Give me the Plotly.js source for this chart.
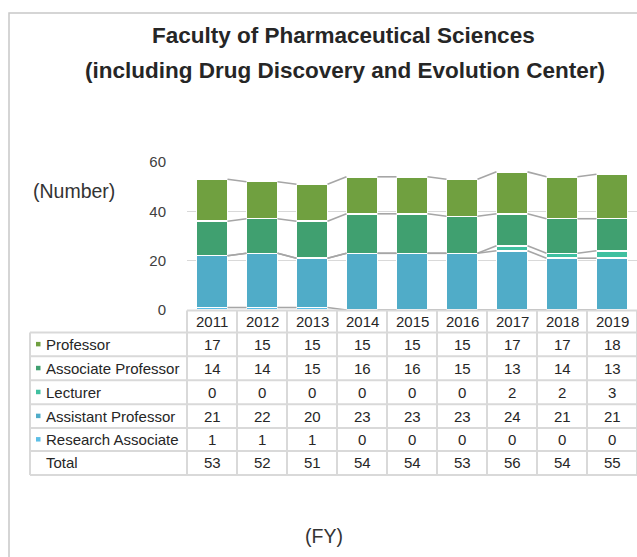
<!DOCTYPE html>
<html>
<head>
<meta charset="utf-8">
<script src="https://cdn.plot.ly/plotly-3.0.1.min.js"></script>
<style>html,body{margin:0;padding:0;background:#fff;}#chart{width:637px;height:557px;}</style>
</head>
<body>
<div id="chart"></div>
<script>
// ---- data ----
var years = ["2011","2012","2013","2014","2015","2016","2017","2018","2019"];
var professor = [17,15,15,15,15,15,17,17,18];
var associateProfessor = [14,14,15,16,16,15,13,14,13];
var lecturer = [0,0,0,0,0,0,2,2,3];
var assistantProfessor = [21,22,20,23,23,23,24,21,21];
var researchAssociate = [1,1,1,0,0,0,0,0,0];
var seriesNames = ["Professor","Associate Professor","Lecturer","Assistant Professor","Research Associate"];
var yTicks = [0,20,40,60];

// ---- styling ----
var colors = {
  "Professor":"#70A040",
  "Associate Professor":"#40A070",
  "Lecturer":"#40C0A0",
  "Assistant Professor":"#50ACC8",
  "Research Associate":"#5CBEE6"
};
var seriesData = {
  "Professor":professor,
  "Associate Professor":associateProfessor,
  "Lecturer":lecturer,
  "Assistant Professor":assistantProfessor,
  "Research Associate":researchAssociate
};
var W = 637, H = 557;
var PL = 187, PR = 637, PT = 162, PB = 310.5;
function px2x(px){ return (px-PL)/(PR-PL); }
function px2y(py){ return (PB-py)/(PB-PT); }
var BW = 0.62;
var xs = years.map(function(_,i){return i;});

var traces = [];
// stacking order bottom -> top
var stackOrder = ["Research Associate","Assistant Professor","Lecturer","Associate Professor","Professor"];
stackOrder.forEach(function(name){
  traces.push({
    type:"bar", x:xs, y:seriesData[name], name:name,
    width:BW, marker:{color:colors[name], line:{color:"#ffffff", width:1.5}},
    showlegend:false, hoverinfo:"skip"
  });
});
// series lines connecting tops of each segment
var cum = years.map(function(){return 0;});
stackOrder.forEach(function(name){
  cum = cum.map(function(c,i){return c + seriesData[name][i];});
  var lx = [], ly = [];
  for (var i=0;i<years.length-1;i++){
    lx.push(i+BW/2, i+1-BW/2, null);
    ly.push(cum[i], cum[i+1], null);
  }
  traces.push({type:"scatter", mode:"lines", x:lx, y:ly, line:{color:"#A6A6A6", width:1.6},
    showlegend:false, hoverinfo:"skip", cliponaxis:false});
});

var totals = years.map(function(_,i){
  return seriesNames.reduce(function(s,n){return s+seriesData[n][i];},0);
});

// ---- table ----
var shapes = [], annotations = [];
var gridC = "#D9D9D9", gridW = 2;
var rowLines = [311,333,357,381,405,429,452,476];
function hline(py, x0px, x1px){
  shapes.push({type:"line", xref:"paper", yref:"paper", x0:px2x(x0px), x1:px2x(x1px), y0:px2y(py), y1:px2y(py), line:{color:gridC, width:gridW}});
}
function vline(pxx, y0px, y1px){
  shapes.push({type:"line", xref:"paper", yref:"paper", x0:px2x(pxx), x1:px2x(pxx), y0:px2y(y0px), y1:px2y(y1px), line:{color:gridC, width:gridW}});
}
hline(311, 187, 640);
for (var r=1;r<rowLines.length;r++) hline(rowLines[r], 30, 640);
vline(30, 333, 476);
for (var c=0;c<=years.length;c++){
  vline(187 + c*50, 311, 476);
}
var FAM = "Liberation Sans, Arial, sans-serif";
var tFont = {family:FAM, size:15, color:"#262626"};
// header years
years.forEach(function(yr,i){
  annotations.push({xref:"x", yref:"paper", x:i, y:px2y(322.5), text:yr, showarrow:false, font:tFont, xanchor:"center", yanchor:"middle"});
});
var rowNames = seriesNames.concat(["Total"]);
var rowVals = seriesNames.map(function(n){return seriesData[n];}).concat([totals]);
rowNames.forEach(function(n,r){
  var cy = (rowLines[r+1]+rowLines[r+2])/2;
  annotations.push({xref:"paper", yref:"paper", x:px2x(43.5), y:px2y(cy), text:n, showarrow:false, font:tFont, xanchor:"left", yanchor:"middle"});
  if (colors[n]) {
    shapes.push({type:"rect", xref:"paper", yref:"paper", x0:px2x(36), x1:px2x(40.5), y0:px2y(cy-2.5), y1:px2y(cy+2), fillcolor:colors[n], line:{width:0}});
  }
  rowVals[r].forEach(function(v,i){
    annotations.push({xref:"x", yref:"paper", x:i, y:px2y(cy), text:String(v), showarrow:false, font:tFont, xanchor:"center", yanchor:"middle"});
  });
});

// outer border
shapes.push({type:"rect", xref:"paper", yref:"paper", x0:px2x(9), x1:px2x(645), y0:px2y(12.5), y1:px2y(565), line:{color:"#C8C8C8", width:1.5}, fillcolor:"rgba(0,0,0,0)"});

// titles
var titleFont = {family:FAM, size:22.5, color:"#262626"};
annotations.push({xref:"paper", yref:"paper", x:px2x(343.5), y:px2y(35), text:"<b>Faculty of Pharmaceutical Sciences</b>", showarrow:false, font:titleFont, xanchor:"center", yanchor:"middle"});
annotations.push({xref:"paper", yref:"paper", x:px2x(344.5), y:px2y(70), text:"<b>(including Drug Discovery and Evolution Center)</b>", showarrow:false, font:titleFont, xanchor:"center", yanchor:"middle"});
var unitFont = {family:FAM, size:19.5, color:"#333333"};
annotations.push({xref:"paper", yref:"paper", x:px2x(74), y:px2y(191), text:"(Number)", showarrow:false, font:unitFont, xanchor:"center", yanchor:"middle"});
annotations.push({xref:"paper", yref:"paper", x:px2x(324), y:px2y(537), text:"(FY)", showarrow:false, font:unitFont, xanchor:"center", yanchor:"middle"});

var layout = {
  width:W, height:H,
  margin:{l:PL, r:W-PR, t:PT, b:H-PB, pad:0},
  paper_bgcolor:"#ffffff", plot_bgcolor:"#ffffff",
  barmode:"stack",
  showlegend:false,
  xaxis:{range:[-0.5, years.length-0.5], showticklabels:false, showgrid:false, zeroline:false, showline:false, ticks:"", fixedrange:true},
  yaxis:{range:[0,60], tickvals:yTicks, ticktext:yTicks.map(String), showgrid:true, gridcolor:"#D9D9D9", gridwidth:1.5,
    zeroline:false, showline:false, ticks:"outside", ticklen:17, tickcolor:"rgba(0,0,0,0)",
    tickfont:{family:FAM, size:15, color:"#404040"}, fixedrange:true},
  shapes:shapes,
  annotations:annotations,
  font:{family:FAM}
};
Plotly.newPlot("chart", traces, layout, {displayModeBar:false, staticPlot:true});
</script>
</body>
</html>
